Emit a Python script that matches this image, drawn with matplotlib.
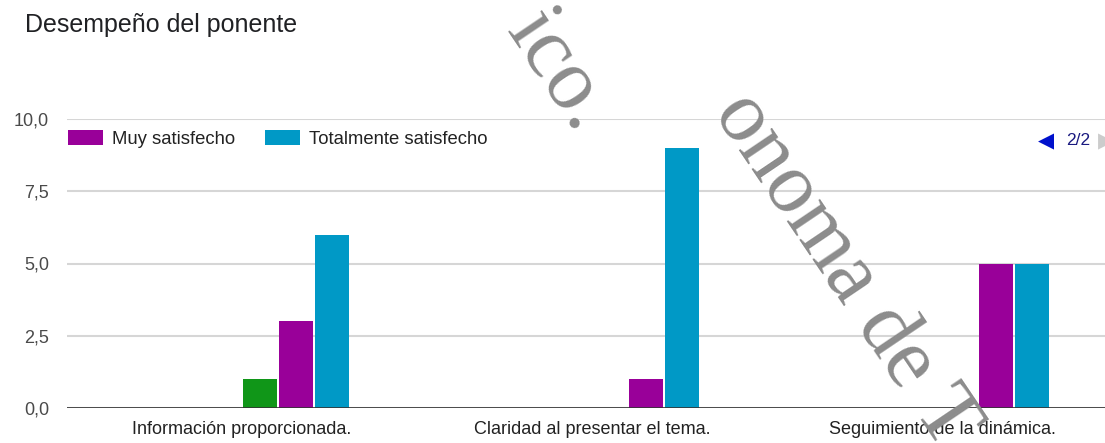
import matplotlib
matplotlib.use("Agg")
import matplotlib.pyplot as plt
from matplotlib.patches import Patch
import numpy as np

# ---------------- data ----------------
title = "Desempeño del ponente"
categories = ["Información proporcionada.",
              "Claridad al presentar el tema.",
              "Seguimiento de la dinámica."]
series_names = ["Nada satisfecho", "Poco satisfecho", "Neutral",
                "Satisfecho", "Muy satisfecho", "Totalmente satisfecho"]
series_colors = ["#3366CC", "#DC3912", "#FF9900",
                 "#109618", "#990099", "#0099C6"]
nada_satisfecho = [0, 0, 0]
poco_satisfecho = [0, 0, 0]
neutral = [0, 0, 0]
satisfecho = [1, 0, 0]
muy_satisfecho = [3, 1, 5]
totalmente_satisfecho = [6, 9, 5]
series_values = [nada_satisfecho, poco_satisfecho, neutral,
                 satisfecho, muy_satisfecho, totalmente_satisfecho]
legend_page = ["Muy satisfecho", "Totalmente satisfecho"]
yticks = [0, 2.5, 5, 7.5, 10]
ytick_labels = ["0,0", "2,5", "5,0", "7,5", "10,0"]
page_text = "2/2"

# ---------------- figure ----------------
W, H = 1105, 443
plt.rcParams["font.family"] = ["Liberation Sans", "DejaVu Sans"]
fig = plt.figure(figsize=(W / 100, H / 100), dpi=100)
fig.patch.set_facecolor("white")

ax = fig.add_axes([67 / W, 35 / H, 1050 / W, 289 / H])
ax.set_xlim(-0.5, 2.5)
ax.set_ylim(0, 10)

x = np.arange(len(categories))
n = len(series_values)
step = 0.618 / n
width = step - 2.5 / 350
for i, (vals, col) in enumerate(zip(series_values, series_colors)):
    ax.bar(x + (i - (n - 1) / 2) * step, vals, width, color=col,
           linewidth=0, zorder=3, label=series_names[i])

for s in ax.spines.values():
    s.set_visible(False)
ax.set_yticks(yticks)
ax.set_yticklabels(ytick_labels)
ax.yaxis.grid(True, color="#d6d6d6", linewidth=1.5, zorder=0)
ax.set_axisbelow(True)
ax.axhline(0, color="#333333", linewidth=1.2, zorder=4)
ax.set_xticks(x)
ax.set_xticklabels(categories)
ax.tick_params(axis="y", length=0, pad=13, labelsize=13, labelcolor="#4a4a4a")
ax.tick_params(axis="x", length=0, pad=9, labelsize=13, labelcolor="#222222")

# legend (page 2/2)
handles = [Patch(facecolor=series_colors[series_names.index(nm)], edgecolor="none")
           for nm in legend_page]
leg = fig.legend(handles, legend_page, loc="center left",
                 bbox_to_anchor=(68 / W, 1 - 139 / H), ncol=2, frameon=False,
                 fontsize=13.3, handlelength=1.9, handleheight=0.86,
                 handletextpad=0.5, columnspacing=1.6, borderpad=0,
                 borderaxespad=0)
for t in leg.get_texts():
    t.set_color("#222222")

# pagination
fig.text(1038 / W, 1 - 141 / H, "\u25C0", fontsize=15, color="#0011cc",
         va="center", ha="left", family="DejaVu Sans")
fig.text(1066 / W, 1 - 141 / H, page_text, fontsize=12.5, color="#1a1a80",
         va="center", ha="left")
fig.text(1098 / W, 1 - 141 / H, "\u25B6", fontsize=15, color="#cccccc",
         va="center", ha="left", family="DejaVu Sans")

# title
fig.text(25 / W, 1 - 32 / H, title, fontsize=18, color="#202124",
         va="baseline", ha="left")

# watermark
wm = dict(family=["Liberation Serif", "DejaVu Serif"], fontsize=62,
          color="#8c8c8c", rotation=-56, rotation_mode="anchor", zorder=10)
fig.text(576 / W, 1 - 135 / H, "ico.", ha="right", va="baseline", **wm)
fig.text(942 / W, 1 - 452 / H, "onoma de T", ha="right", va="baseline", **wm)

fig.savefig("out.png", dpi=100, facecolor="white")
